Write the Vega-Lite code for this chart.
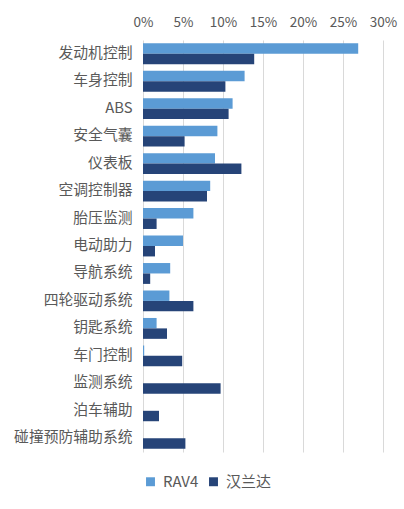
{
  "$schema": "https://vega.github.io/schema/vega-lite/v6.json",
  "autosize": "none",
  "padding": {"left": 143, "top": 40, "right": 21, "bottom": 57},
  "width": 240,
  "height": 412,
  "background": "white",
  "config": {
    "view": {"stroke": null},
    "font": "Noto Sans CJK SC"
  },
  "data": {
    "values": [
      {"part": "发动机控制", "car": "RAV4", "share": 0.269},
      {"part": "发动机控制", "car": "汉兰达", "share": 0.139},
      {"part": "车身控制", "car": "RAV4", "share": 0.127},
      {"part": "车身控制", "car": "汉兰达", "share": 0.103},
      {"part": "ABS", "car": "RAV4", "share": 0.112},
      {"part": "ABS", "car": "汉兰达", "share": 0.107},
      {"part": "安全气囊", "car": "RAV4", "share": 0.093},
      {"part": "安全气囊", "car": "汉兰达", "share": 0.052},
      {"part": "仪表板", "car": "RAV4", "share": 0.090},
      {"part": "仪表板", "car": "汉兰达", "share": 0.123},
      {"part": "空调控制器", "car": "RAV4", "share": 0.084},
      {"part": "空调控制器", "car": "汉兰达", "share": 0.080},
      {"part": "胎压监测", "car": "RAV4", "share": 0.063},
      {"part": "胎压监测", "car": "汉兰达", "share": 0.017},
      {"part": "电动助力", "car": "RAV4", "share": 0.050},
      {"part": "电动助力", "car": "汉兰达", "share": 0.015},
      {"part": "导航系统", "car": "RAV4", "share": 0.034},
      {"part": "导航系统", "car": "汉兰达", "share": 0.009},
      {"part": "四轮驱动系统", "car": "RAV4", "share": 0.033},
      {"part": "四轮驱动系统", "car": "汉兰达", "share": 0.063},
      {"part": "钥匙系统", "car": "RAV4", "share": 0.017},
      {"part": "钥匙系统", "car": "汉兰达", "share": 0.030},
      {"part": "车门控制", "car": "RAV4", "share": 0.0015},
      {"part": "车门控制", "car": "汉兰达", "share": 0.049},
      {"part": "监测系统", "car": "RAV4", "share": 0},
      {"part": "监测系统", "car": "汉兰达", "share": 0.097},
      {"part": "泊车辅助", "car": "RAV4", "share": 0},
      {"part": "泊车辅助", "car": "汉兰达", "share": 0.020},
      {"part": "碰撞预防辅助系统", "car": "RAV4", "share": 0},
      {"part": "碰撞预防辅助系统", "car": "汉兰达", "share": 0.053}
    ]
  },
  "mark": {"type": "bar"},
  "encoding": {
    "y": {
      "field": "part",
      "type": "nominal",
      "sort": null,
      "title": null,
      "scale": {"paddingInner": 0.24, "paddingOuter": 0.12},
      "axis": {
        "ticks": false,
        "domain": false,
        "labelPadding": 11,
        "labelFontSize": 14.8,
        "labelColor": "#595959",
        "labelFont": "Noto Sans CJK SC"
      }
    },
    "yOffset": {"field": "car", "type": "nominal", "sort": ["RAV4", "汉兰达"]},
    "x": {
      "field": "share",
      "type": "quantitative",
      "title": null,
      "scale": {"domain": [0, 0.3], "nice": false},
      "axis": {
        "orient": "top",
        "format": ".0%",
        "values": [0, 0.05, 0.1, 0.15, 0.2, 0.25, 0.3],
        "ticks": false,
        "domain": false,
        "grid": true,
        "gridColor": "#d9d9d9",
        "labelFlush": false,
        "labelBound": false,
        "labelPadding": 11,
        "labelFontSize": 13.5,
        "labelColor": "#595959",
        "labelFont": "Noto Sans CJK SC"
      }
    },
    "color": {
      "field": "car",
      "type": "nominal",
      "sort": ["RAV4", "汉兰达"],
      "scale": {"domain": ["RAV4", "汉兰达"], "range": ["#5b9bd5", "#264478"]},
      "legend": {
        "title": null,
        "orient": "none",
        "direction": "horizontal",
        "legendX": 0,
        "legendY": 434,
        "symbolType": "square",
        "symbolSize": 80,
        "symbolStrokeWidth": 0,
        "labelFontSize": 15,
        "labelColor": "#595959",
        "labelFont": "Noto Sans CJK SC",
        "columnPadding": 7,
        "labelOffset": 5
      }
    }
  }
}
